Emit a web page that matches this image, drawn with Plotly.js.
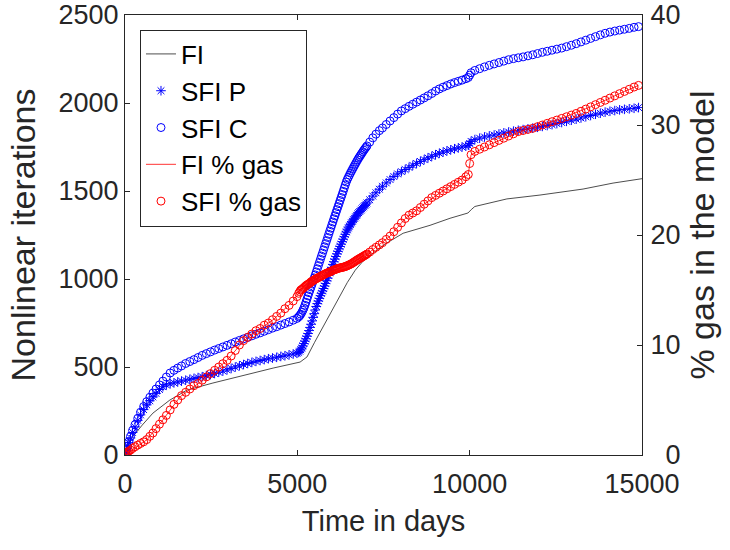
<!DOCTYPE html>
<html>
<head>
<meta charset="utf-8">
<script src="https://cdn.plot.ly/plotly-3.0.1.min.js"></script>
<style>html,body{margin:0;padding:0;background:#fff;}#chart{width:730px;height:550px;}</style>
</head>
<body>
<div id="chart"></div>
<script>
// SFI time steps (days) shared by SFI P, SFI C and SFI % gas
const sfiDays = [0,15,40,70,110,160,220,290,370,450,540,630,720,810,900,1000,
1100,1200,1310,1420,1530,1640,1760,1880,2000,2120,2240,2360,2480,2600,2720,2840,2960,3080,3200,3320,3440,3560,3680,3800,3920,4040,4160,4280,4400,4520,4640,4760,4880,4990,
5040,5070,5100,5130,5160,5190,5220,5250,5280,5310,5340,5370,5400,5430,5460,5490,5520,5550,5580,5610,
5640,5670,5700,5730,5760,5790,5820,5850,5880,5910,5940,5970,6000,6030,6060,6090,6120,6150,6180,6210,
6240,6270,6300,6330,6360,6390,6420,6450,6480,6510,6540,6570,6600,6630,6660,6690,6720,6750,6780,6810,
6840,6870,6900,6930,6960,6990,7020,7100,7190,7280,7380,7470,
7580,7690,7800,7910,8020,8130,8240,8350,8460,8570,8680,8790,8900,9010,9120,9230,9340,9450,9560,9670,9780,9890,9960,10000,10040,
10150,10290,10430,10570,10710,10850,10990,11130,11270,11410,11550,11690,11830,11970,12110,12250,12390,12530,12670,12810,12950,13090,13230,13370,13510,13650,13790,13930,14070,14210,14350,14490,14630,14770,14900];

// SFI P (pressure) nonlinear iterations
const sfiP = [0,10,27,46,70,97,128,160,197,228,258,285,308,330,350,372,
388,398,405,410,415,420,425,430,435,440,445,451,457,463,470,477,484,492,500,507,514,520,526,532,537,542,547,551,555,560,564,569,574,578,
583,590,598,608,620,633,647,660,675,690,707,725,743,762,782,803,824,844,860,875,
890,905,919,932,946,960,975,990,1005,1020,1035,1050,1066,1083,1098,1113,1128,1143,1157,1171,
1185,1198,1212,1226,1240,1254,1267,1279,1290,1300,1310,1319,1328,1337,1345,1353,1362,1370,1377,1384,
1391,1398,1405,1411,1418,1425,1432,1450,1471,1490,1510,1527,
1546,1565,1582,1597,1610,1622,1634,1646,1657,1668,1678,1688,1697,1706,1714,1721,1728,1734,1740,1745,1750,1755,1760,1770,1782,
1792,1800,1807,1813,1818,1824,1830,1835,1840,1845,1849,1853,1857,1862,1867,1872,1877,1883,1889,1896,1902,1908,1915,1922,1929,1936,1942,1948,1953,1957,1961,1964,1967,1970,1974];

// SFI C (composition) nonlinear iterations
const sfiC = [0,12,30,50,75,105,140,172,208,243,275,303,328,352,375,398,
420,443,466,481,494,506,520,531,542,554,566,576,586,596,605,614,623,632,642,651,660,668,677,686,694,703,712,721,729,738,747,756,766,776,
785,792,800,810,822,835,851,868,886,904,922,939,955,972,989,1006,1023,1040,1058,1076,
1094,1112,1130,1147,1165,1183,1201,1218,1236,1254,1272,1289,1307,1324,1342,1359,1377,1394,1411,1428,
1446,1463,1480,1498,1516,1534,1551,1566,1578,1590,1602,1613,1624,1635,1646,1656,1667,1677,1687,1696,
1705,1714,1723,1732,1740,1748,1756,1778,1802,1823,1843,1858,
1878,1898,1917,1937,1955,1968,1981,1993,2005,2017,2029,2041,2054,2068,2080,2090,2099,2108,2116,2123,2130,2138,2145,2158,2172,
2185,2195,2205,2214,2222,2230,2238,2246,2252,2257,2262,2268,2274,2281,2288,2294,2300,2306,2312,2320,2328,2337,2347,2357,2367,2377,2387,2396,2403,2409,2414,2419,2424,2430,2434];

// SFI % gas in the model
const sfiGas = [0,0.05,0.15,0.25,0.35,0.45,0.6,0.75,0.9,1.05,1.2,1.4,1.7,2.0,2.4,2.8,
3.2,3.6,4.1,4.6,5.0,5.4,5.7,6.0,6.3,6.5,6.8,7.1,7.4,7.7,8.0,8.3,8.6,9.0,9.5,10.0,10.4,10.7,11.0,11.3,11.5,11.8,12.0,12.3,12.6,12.9,13.3,13.6,14.0,14.4,
14.7,14.85,15.0,15.06,15.13,15.22,15.3,15.4,15.46,15.52,15.58,15.65,15.75,15.8,15.86,15.92,15.98,16.03,16.08,16.13,
16.18,16.23,16.28,16.33,16.38,16.43,16.48,16.53,16.57,16.6,16.63,16.68,16.73,16.78,16.82,16.85,16.89,16.93,16.96,16.99,
17.01,17.03,17.05,17.08,17.1,17.13,17.17,17.21,17.25,17.3,17.34,17.39,17.45,17.51,17.57,17.64,17.7,17.76,17.82,17.87,
17.93,17.98,18.04,18.09,18.15,18.21,18.27,18.45,18.68,18.88,19.1,19.3,
19.6,19.9,20.3,20.7,21.1,21.5,21.8,22.0,22.2,22.5,22.8,23.1,23.4,23.6,23.8,24.0,24.2,24.4,24.6,24.8,25.0,25.3,25.5,26.5,27.3,
27.6,27.8,28.0,28.2,28.4,28.6,28.8,29.0,29.2,29.4,29.5,29.6,29.7,29.85,30.0,30.15,30.3,30.45,30.6,30.75,30.9,31.05,31.25,31.45,31.65,31.85,32.05,32.25,32.45,32.65,32.85,33.05,33.25,33.45,33.6];

// FI nonlinear iterations
const fiDays = [0,145,500,810,1300,1800,2550,3340,4300,5080,5150,5280,5500,5750,6000,6200,6450,6680,6900,7200,7600,8070,8850,9430,9950,10050,10150,11080,12040,13290,14160,15000];
const fiIter = [0,85,170,238,312,369,409,449,494,528,540,557,640,730,825,895,980,1050,1100,1148,1205,1260,1305,1345,1375,1395,1412,1455,1477,1511,1545,1570];

// FI % gas in the model
const fiGasDays = [0,640,1100,1600,2260,2960,3340,3560,4300,4880,5100,5460,6440,7100,7690,8130,8680,9120,9960,10000,10040,10570,11550,12530,13510,14490,14900];
const fiGas = [0,1.4,3.2,5.3,6.8,8.6,10.0,10.7,12.3,14.0,15.0,15.9,17.2,18.45,19.9,21.5,22.8,23.8,25.5,26.5,27.3,28.2,29.5,30.45,31.65,33.05,33.6];

const xTicks = [0,5000,10000,15000];
const yTicks = [0,500,1000,1500,2000,2500];
const y2Ticks = [0,10,20,30,40];
const y2Text = ['\u00a0\u00a00','10','20','30','40'];

const FONT = '"Liberation Sans", Arial, Helvetica, sans-serif';
const AX = '#262626';

const traces = [
  {x: fiDays, y: fiIter, name: 'FI', type: 'scatter', mode: 'lines',
   line: {color: '#000000', width: 0.7}, yaxis: 'y'},
  {x: sfiDays, y: sfiP, name: 'SFI P', type: 'scatter', mode: 'markers',
   marker: {symbol: 'asterisk-open', size: 8, color: '#0000FF', line: {color: '#0000FF', width: 1}}, yaxis: 'y'},
  {x: sfiDays, y: sfiC, name: 'SFI C', type: 'scatter', mode: 'markers',
   marker: {symbol: 'circle-open', size: 8, color: '#0000FF', line: {color: '#0000FF', width: 1}}, yaxis: 'y'},
  {x: fiGasDays, y: fiGas, name: 'FI % gas', type: 'scatter', mode: 'lines',
   line: {color: '#FF0000', width: 0.8}, yaxis: 'y2'},
  {x: sfiDays, y: sfiGas, name: 'SFI % gas', type: 'scatter', mode: 'markers',
   marker: {symbol: 'circle-open', size: 8, color: '#FF0000', line: {color: '#FF0000', width: 1}}, yaxis: 'y2'}
];

const layout = {
  width: 730, height: 550,
  margin: {l: 125, r: 88, t: 15, b: 95, pad: 0},
  paper_bgcolor: '#ffffff', plot_bgcolor: '#ffffff',
  font: {family: FONT, color: AX, size: 27},
  showlegend: true,
  legend: {x: 0.029, y: 0.967, xanchor: 'left', yanchor: 'top',
    bgcolor: '#ffffff', bordercolor: AX, borderwidth: 1,
    font: {family: FONT, size: 26, color: '#000000'}, tracegroupgap: 0},
  xaxis: {range: [0, 15000], tickvals: xTicks, ticktext: xTicks.map(String),
    ticks: 'inside', ticklen: 5, tickcolor: AX, showline: true, linecolor: AX, linewidth: 1,
    mirror: 'ticks', showgrid: false, zeroline: false, ticklabelstandoff: 5,
    tickfont: {family: FONT, size: 27, color: AX},
    title: {text: 'Time in days', font: {family: FONT, size: 29, color: AX}, standoff: 12}},
  yaxis: {range: [0, 2500], tickvals: yTicks, ticktext: yTicks.map(String),
    ticks: 'inside', ticklen: 5, tickcolor: AX, showline: true, linecolor: AX, linewidth: 1,
    showgrid: false, zeroline: false,
    tickfont: {family: FONT, size: 27, color: AX},
    title: {text: 'Nonlinear iterations', font: {family: FONT, size: 34, color: AX}, standoff: 12}},
  yaxis2: {range: [0, 40], tickvals: y2Ticks, ticktext: y2Text,
    overlaying: 'y', side: 'right', anchor: 'x',
    ticks: 'inside', ticklen: 5, tickcolor: AX, showline: true, linecolor: AX, linewidth: 1,
    showgrid: false, zeroline: false, ticklabelstandoff: 2,
    tickfont: {family: FONT, size: 27, color: AX},
    title: {text: '% gas in the model', font: {family: FONT, size: 34, color: AX}, standoff: 10}}
};

Plotly.newPlot('chart', traces, layout, {displayModeBar: false, staticPlot: true});
</script>
</body>
</html>
